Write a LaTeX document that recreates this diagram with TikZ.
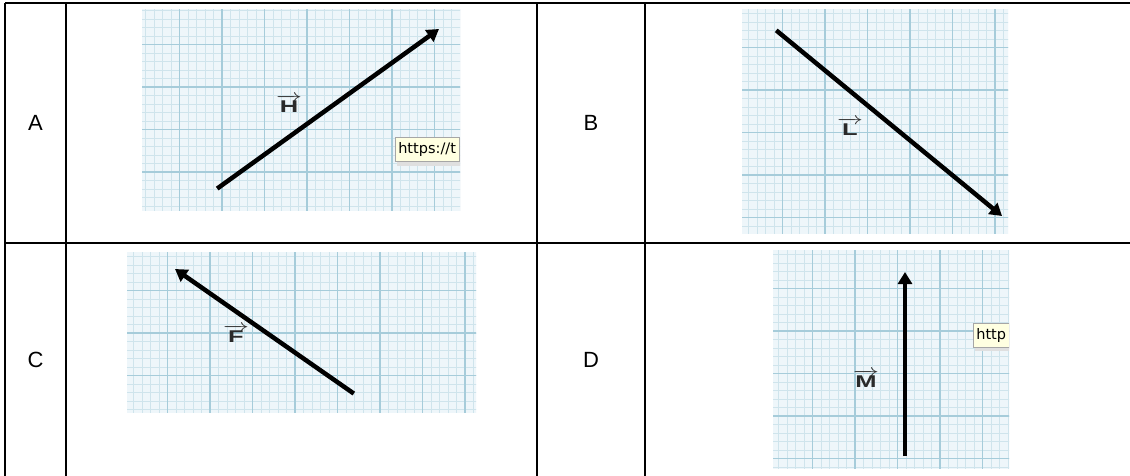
\documentclass[tikz,border=0pt]{standalone}
\usepackage{fontspec}
\setmainfont{Liberation Sans}
\newfontfamily\tipfont{DejaVu Sans}
\usetikzlibrary{arrows.meta}
\definecolor{gridbg}{HTML}{EEF6FA}
\definecolor{gridminor}{HTML}{CFE4EC}
\definecolor{gridmajor}{HTML}{A6CCDA}
\definecolor{tipfill}{HTML}{FFFFE1}
\definecolor{veclab}{HTML}{2A2A2A}
\newcommand{\paperbg}[4]{%
  \fill[gridbg] (#1,#2) rectangle (#3,#4);
  \pgfmathsetmacro{\pxa}{#1+8.5}\pgfmathsetmacro{\pya}{#2+8.5}%
  \foreach \gx in {#1,\pxa,...,#3} {\draw[gridminor,line width=0.7pt] (\gx,#2) -- (\gx,#4);}
  \foreach \gy in {#2,\pya,...,#4} {\draw[gridminor,line width=0.7pt] (#1,\gy) -- (#3,\gy);}
  \pgfmathsetmacro{\pxb}{#1+42.5}\pgfmathsetmacro{\pyb}{#2+42.5}%
  \foreach \gx in {#1,\pxb,...,#3} {\draw[gridmajor,line width=1.2pt] (\gx,#2) -- (\gx,#4);}
  \foreach \gy in {#2,\pyb,...,#4} {\draw[gridmajor,line width=1.2pt] (#1,\gy) -- (#3,\gy);}
}
\newcommand{\veclet}[1]{\scalebox{1.5}[1]{$\overrightarrow{\mathbf{#1}}$}}
\tikzset{
  x=1pt, y=-1pt,
  tableline/.style={line width=1.8pt, black},
  rowlabel/.style={font=\fontsize{22}{24}\selectfont, inner sep=0pt},
  vecarrow/.style={line width=4.5pt, black, -{Triangle[length=12pt,width=14pt]}, shorten <=-1pt},
  veclabel/.style={font=\fontsize{17}{18}\selectfont, text=veclab, inner sep=0pt},
  tip/.style={draw=gray!70, fill=tipfill, line width=0.6pt, inner xsep=3pt, inner ysep=5pt,
              font=\tipfont\fontsize{14.5}{16}\selectfont, anchor=north west, text=black},
}
\begin{document}
\begin{tikzpicture}
\useasboundingbox (0,0) rectangle (1130,476);
\fill[white] (0,0) rectangle (1130,476);

% ---------- graph paper A ----------
\begin{scope}
  \clip (142,10) rectangle (460,210);
  \paperbg{137}{2}{462}{212}
  \fill[gray!25] (397,139) rectangle (470,166);
  \node[tip] (tipA) at (395,137) {https://t};
\end{scope}
\coordinate (h1) at (218,188);
\coordinate (h2) at (439,29);
\draw[vecarrow] (h1) -- (h2);
\node[veclabel] (labH) at (289,104) {\veclet{H}};

% ---------- graph paper B ----------
\begin{scope}
  \clip (742,10) rectangle (1008,233);
  \paperbg{740}{5}{1010}{235}
\end{scope}
\coordinate (l1) at (777,31);
\coordinate (l2) at (1002,216);
\draw[vecarrow] (l1) -- (l2);
\node[veclabel] (labL) at (850,127) {\veclet{L}};

% ---------- graph paper C ----------
\begin{scope}
  \clip (127,252) rectangle (476,412);
  \paperbg{125}{248}{478}{414}
\end{scope}
\coordinate (f1) at (353,393);
\coordinate (f2) at (175,269);
\draw[vecarrow] (f1) -- (f2);
\node[veclabel] (labF) at (236,334) {\veclet{F}};

% ---------- graph paper D ----------
\begin{scope}
  \clip (773,250) rectangle (1009,468);
  \paperbg{770}{246}{1012}{470}
  \fill[gray!25] (975,325) rectangle (1012,351);
  \node[tip] (tipD) at (973,323) {http};
\end{scope}
\coordinate (m1) at (905,455);
\coordinate (m2) at (905,272);
\draw[vecarrow] (m1) -- (m2);
\node[veclabel] (labM) at (866,379) {\veclet{M}};

% ---------- table ----------
\draw[tableline] (5,3) -- (1130,3);
\draw[tableline] (5,243) -- (1130,243);
\draw[tableline] (5,3) -- (5,476);
\draw[tableline] (66,3) -- (66,476);
\draw[tableline] (537,3) -- (537,476);
\draw[tableline] (645,3) -- (645,476);

\node[rowlabel] (A) at (35.5,123) {A};
\node[rowlabel] (B) at (591,123) {B};
\node[rowlabel] (C) at (35.5,360) {C};
\node[rowlabel] (D) at (591,360) {D};
\end{tikzpicture}
\end{document}
